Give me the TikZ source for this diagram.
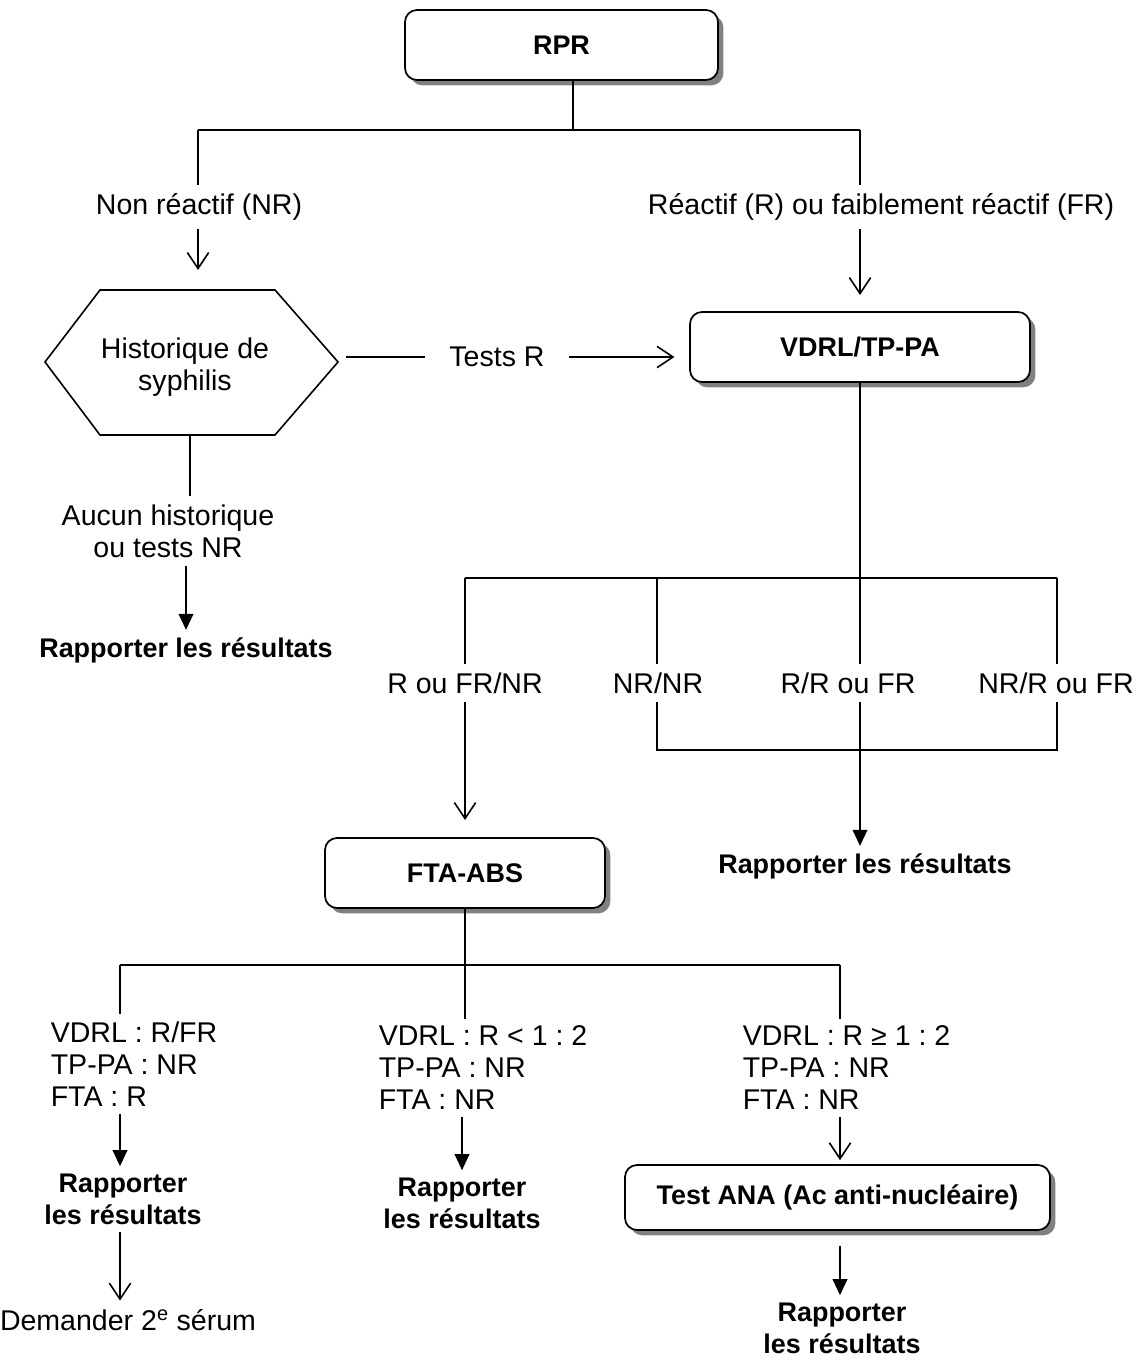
\documentclass[tikz,border=0pt]{standalone}
\usepackage{fontspec}
\setmainfont{Liberation Sans}
\usetikzlibrary{arrows.meta,shadows}
\frenchspacing
\begin{document}
\begin{tikzpicture}[x=0.75pt,y=-0.75pt,line width=1.2pt,
 box/.style={draw,line width=1.3pt,rounded corners=9pt,fill=white,
   drop shadow={shadow xshift=4pt,shadow yshift=-4pt,fill=black!50,opacity=1},
   font=\bfseries\fontsize{20.2}{24}\selectfont,inner sep=0pt,minimum height=52.5pt},
 lbl/.style={font=\fontsize{21.4}{24}\selectfont,inner sep=6pt,align=center},
 res/.style={font=\bfseries\fontsize{20.2}{24}\selectfont,inner sep=5pt,align=center},
 grp/.style={font=\fontsize{21.4}{24}\selectfont,inner xsep=0pt,inner ysep=5pt,align=left,anchor=west},
 openarr/.style={-{Straight Barb[length=12pt,width=16pt]}},
 fillarr/.style={-{Triangle[length=12pt,width=11pt]}}]
\useasboundingbox (0,0) rectangle (1137,1362);

% boxes
\node[box,minimum width=234.75pt] (rpr) at (561.5,45) {RPR};
\node[box,minimum width=255pt] (vdrl) at (860,347) {VDRL/TP-PA};
\node[box,minimum width=210pt] (fta) at (465,873) {FTA-ABS};
\node[box,minimum width=318.75pt,minimum height=48.75pt] (ana) at (837.5,1197.5) {Test ANA (Ac anti-nucléaire)};

% top split
\coordinate (j0) at (573,130);
\coordinate (jL) at (198,130);
\coordinate (jR) at (860,130);
\node[lbl] (nr) at (199,207) {Non réactif (NR)};
\node[lbl] (re) at (881,207) {Réactif (R) ou faiblement réactif (FR)};
\draw (rpr.south -| j0) -- (j0);
\draw (jL) -- (jR);
\draw (jL) -- (nr.north -| jL);
\draw (jR) -- (re.north -| jR);
\coordinate (hexin) at (198,270);
\coordinate (vin) at (860,295);
\draw[openarr] (nr.south -| hexin) -- (hexin);
\draw[openarr] (re.south -| vin) -- (vin);

% hexagon
\coordinate (hL) at (45,362);
\coordinate (hR) at (338,362);
\coordinate (hB) at (190,435);
\draw[line width=1.2pt] (hL) -- (100,290) -- (275,290) -- (hR) -- (275,435) -- (100,435) -- cycle;
\node[lbl,inner sep=0pt] (hist) at (185,367) {Historique de\\syphilis};

% Tests R
\node[lbl,inner xsep=18pt] (tr) at (497,357) {Tests R};
\draw[shorten <=6pt] (hR |- tr) -- (tr.west);
\draw[openarr,shorten >=11pt] (tr.east) -- (vdrl.west |- tr);

% left branch under hexagon
\node[lbl] (aucun) at (168,531) {Aucun historique\\ou tests NR};
\node[res] (r1) at (186,650) {Rapporter les résultats};
\draw (hB) -- (aucun.north -| hB);
\draw[fillarr] (aucun.south -| r1) -- (r1.north);

% VDRL split
\coordinate (j2) at (860,578);
\coordinate (k1) at (465,578);
\coordinate (k2) at (657,578);
\coordinate (k4) at (1057,578);
\draw (vdrl.south) -- (j2);
\draw (k1) -- (k4);
\node[lbl] (l1) at (465,683) {R ou FR/NR};
\node[lbl] (l2) at (658,683) {NR/NR};
\node[lbl] (l3) at (848,683) {R/R ou FR};
\node[lbl] (l4) at (1056,683) {NR/R ou FR};
\draw (k1) -- (l1.north -| k1);
\draw (k2) -- (l2.north -| k2);
\draw (j2) -- (l3.north -| j2);
\draw (k4) -- (l4.north -| k4);
\coordinate (b2) at (657,750);
\coordinate (b3) at (860,750);
\coordinate (b4) at (1057,750);
\draw (l2.south -| b2) -- (b2) -- (b4) -- (l4.south -| b4);
\draw (l3.south -| b3) -- (b3);
\node[res] (r2) at (865,866) {Rapporter les résultats};
\draw[fillarr] (b3) -- (r2.north -| b3);
\coordinate (fin) at (465,820);
\draw[openarr] (l1.south) -- (fin);

% FTA split
\coordinate (m1) at (120,965);
\coordinate (m2) at (465,965);
\coordinate (m3) at (840,965);
\draw (fta.south) -- (m2);
\draw (m1) -- (m3);
\node[grp] (g1) at (50,1064) {VDRL : R/FR\\TP-PA : NR\\FTA : R};
\node[grp] (g2) at (378,1068) {VDRL : R < 1 : 2\\TP-PA : NR\\FTA : NR};
\node[grp] (g3) at (742,1068) {VDRL : R ≥ 1 : 2\\TP-PA : NR\\FTA : NR};
\draw (m1) -- (g1.north -| m1);
\draw (m2) -- (g2.north -| m2);
\draw (m3) -- (g3.north -| m3);

\node[res] (r3) at (123,1199) {Rapporter\\les résultats};
\node[res] (r4) at (462,1203) {Rapporter\\les résultats};
\node[res] (r5) at (842,1328) {Rapporter\\les résultats};
\node[lbl] (dem) at (128,1320) {Demander 2\textsuperscript{e} sérum};

\draw[fillarr] (g1.south -| m1) -- (r3.north -| m1);
\draw[fillarr] (g2.south -| r4) -- (r4.north);
\draw[openarr,shorten >=3pt] (g3.south -| m3) -- (ana.north -| m3);
\draw[fillarr,shorten <=11pt] (ana.south -| m3) -- (r5.north -| m3);
\draw[openarr] (r3.south -| m1) -- (dem.north -| m1);
\end{tikzpicture}
\end{document}
